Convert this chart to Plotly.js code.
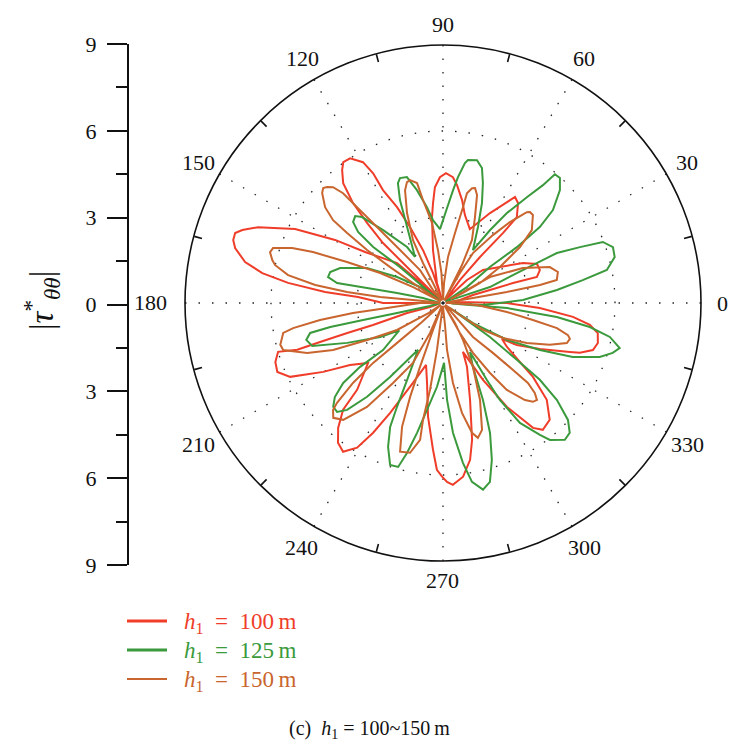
<!DOCTYPE html>
<html>
<head>
<meta charset="utf-8">
<script src="https://cdn.plot.ly/plotly-3.0.1.min.js"></script>
<style>html,body{margin:0;padding:0;background:#fff;}#chart{width:750px;height:752px;}</style>
</head>
<body>
<div id="chart"></div>
<script>
// ---- data: [theta (deg), |tau*| value] ----
const redCurve = [
 [10,0.6],[15,1.08],[15.5,1.7],[15.9,2.54],[15.5,3.4],[18.8,3.57],[22.5,3.55],[26.6,3.12],[32.3,2.35],[39.5,1.81],[43.8,1.16],[45,0.49],[49,0.1],
 [53.5,1.0],[51.2,2.06],[49.4,3.21],[49.3,3.95],[53.1,4.36],[55.8,4.47],[57.6,4.17],[62.4,3.54],[70,2.74],
 [76,3.16],[79.5,3.65],[83.2,4.14],[85.5,4.4],[88.7,4.53],[91.4,4.39],[94,4.05],[95.7,3.5],[97.3,3.02],[100.7,1.88],[106.7,0.73],[107.5,0.1],
 [108.4,1.1],[110.7,1.97],[113.5,2.89],[115.6,3.71],[118,4.46],[118.3,5.14],[119.6,5.65],[122.7,6.0],[125.3,6.02],[127.2,5.82],[129.8,5.44],[132,4.69],[133.5,3.84],[135,2.96],[135,2.12],[135,1.28],[135,0.64],[136,0.1],
 [138,1.1],[139,2.12],[146.8,3.25],[149.7,4.36],[153.4,5.77],[157.7,6.97],[160,7.45],[161.4,7.65],[163.3,7.64],[165.2,7.5],[168.3,7.05],[170.6,6.39],[172.6,5.45],[174.7,4.13],[176,2.97],[180,2.09],[180,0.56],[188,0.1],
 [197,0.47],[195.5,1.3],[197.4,2.56],[197.4,3.5],[197.6,4.5],[197.8,5.34],[196.5,6.0],[199.4,6.2],[202.6,6.26],[205.8,5.92],[209.9,4.82],[213.7,3.9],[218.7,3.35],
 [225.3,4.26],[226.9,5.1],[230,5.69],[233.1,6.1],[236.1,6.25],[239.3,5.87],[241.7,5.14],[244.3,4.25],[249.4,2.98],[254.7,2.24],
 [258.7,2.84],[262.5,4.0],[266.1,5.13],[267.9,5.82],[269.7,6.06],[271.3,6.24],[273.1,6.35],[276.6,6.1],[279.8,5.55],[282,4.88],[285.6,3.51],[290.6,2.38],[292.2,1.84],
 [297.5,3.02],[301.6,4.26],[305.8,5.37],[308.2,5.63],[312.4,5.52],[317,4.95],[320.6,4.06],[322.5,3.38],[325.5,2.71],[328.6,2.41],
 [330.4,2.96],[334.6,3.74],[338.9,4.74],[340,5.08],[342.6,5.48],[345.5,5.58],[349,5.5],[351.5,5.18],[353.9,4.56],[357,3.38],[0,2.23],[4,0.49],[7,0.1]
];
const greenCurve = [
 [357,1.4],[2.1,2.79],[6.5,4.0],[9.3,4.94],[11.4,5.83],[15,6.2],[18.2,6.24],[20.9,5.97],[22.2,5.16],[23.7,4.34],[22.4,3.01],[18.8,1.73],[20,0.6],[28,0.1],
 [33.7,1.0],[37.5,2.06],[37.1,3.23],[38.1,4.29],[40.2,5.02],[44,5.67],[46.9,5.97],[49,5.95],[49.7,5.39],[51.6,4.71],[54.6,3.85],[57.2,3.02],[60.5,2.12],
 [65.3,2.92],[68.7,3.74],[71.6,4.41],[73.9,4.9],[76.6,5.12],[80.1,5.06],[81.1,4.94],[83.2,4.42],[84.9,3.95],[87.6,3.31],[92.3,2.58],
 [96.9,2.91],[99.5,3.39],[103,4.04],[106,4.57],[109,4.61],[110.6,4.47],[112.7,3.89],[115.3,2.93],[121.3,1.88],
 [122.7,2.32],[129.4,3.29],[133.3,4.12],[135.3,4.31],[138,4.22],[140.1,3.86],[141.3,3.12],[140.1,1.95],[140.9,0.72],[143,0.1],
 [145.2,0.98],[150.5,1.84],[155.3,2.92],[161.2,3.79],[164.7,4.08],[167.3,4.11],[169.3,3.76],[168.8,2.7],[167.7,1.64],[166,0.72],[180,0.1],
 [193,0.47],[192.3,1.64],[192,2.85],[192,4.02],[192.7,4.75],[195.1,4.94],[198.2,4.8],[202.6,3.62],[208.4,2.49],[212,1.8],
 [218.1,2.66],[217.6,3.65],[218.7,4.46],[221,5.0],[223.4,5.27],[225.8,5.3],[228.1,5.01],[231,4.21],[234.4,3.17],[242,1.85],
 [245,2.96],[246.1,3.96],[246.9,4.7],[249.1,5.37],[251.9,5.94],[254.7,5.93],[256.5,5.38],[258.7,4.62],[261.5,3.77],[265.9,2.93],[271,2.09],
 [272.4,3.38],[274.4,4.54],[277.1,5.62],[279.2,6.32],[282.1,6.66],[284.7,6.45],[287.3,5.73],[289.9,4.82],[292.4,3.66],[295.1,2.46],[298.9,1.95],
 [299.7,3.09],[300.4,3.92],[302.7,4.97],[306.3,5.71],[308,6.06],[311.7,6.39],[314.3,6.33],[316.9,5.97],[319.6,5.22],[321.6,4.31],[322.4,3.25],[324.1,2.02],[324,0.3],
 [326.3,1.26],[330,2.58],[334.1,3.76],[337.4,4.9],[341,5.78],[343.6,6.17],[345.7,6.36],[348.5,5.94],[350.7,5.19],[353,4.0],[355.5,2.24],[356,0.3]
];
const orangeCurve = [
 [9.5,1.06],[9.8,2.26],[10.5,3.44],[11.4,4.05],[15.1,4.15],[18.6,3.93],[23.6,3.04],[29,1.87],[27,0.3],
 [26.6,0.78],[28.4,1.47],[32.3,2.35],[36,3.32],[39.4,4.01],[44.4,4.39],[46.3,4.39],[47.3,4.31],[50.4,3.66],[53.7,2.94],[59,2.03],[60.5,1.2],[61.7,0.51],[62,0.1],
 [63.4,1.48],[65.3,2.42],[69.6,3.2],[72.5,3.95],[74.4,4.16],[75.8,4.13],[77.7,3.92],[78.2,3.42],[80.3,2.47],[83.8,1.61],[87,0.7],[90,0.1],
 [93,1.05],[95.4,1.85],[97.8,2.81],[101,3.66],[102.2,4.28],[105,4.44],[106.6,4.4],[108.6,4.15],[111.8,3.38],[115.5,2.43],[116.6,1.56],[116.6,0.78],[120,0.1],
 [127.6,0.57],[124.9,1.4],[129,2.38],[131,3.51],[131.9,4.49],[132.3,5.18],[133.5,5.57],[135,5.72],[136.2,5.79],[137.7,5.7],[140.9,5.3],[143,4.8],[143.9,4.14],[145.1,3.23],[145.8,2.23],[146.3,1.26],[148,0.1],
 [151.9,1.18],[154.5,2.43],[156.9,3.64],[158.6,4.87],[160,5.6],[162.1,6.23],[163.6,6.29],[165.9,6.14],[167.3,6.0],[169.8,5.49],[172,4.5],[173.5,3.37],[174.6,2.2],[174.3,1.05],[177,0.1],
 [180,0.8],[185.1,1.96],[186.3,3.16],[187.9,4.33],[189.5,5.3],[190.6,5.67],[194.4,5.86],[196.4,5.81],[200.2,5.05],[203.1,4.17],[206,2.94],[210.4,1.86],[215,0.6],[220,0.1],
 [222,1.0],[221,2.12],[220.6,3.21],[221.6,4.2],[223.3,5.08],[224.2,5.35],[226.3,5.54],[229.5,5.36],[233.8,4.49],[238,3.29],[243.4,2.34],[246.6,1.14],[248,0.1],
 [249.7,1.0],[250.2,2.37],[250.7,3.47],[251.7,4.55],[253.9,5.4],[257.6,5.35],[260.5,4.84],[260.3,4.14],[261.5,3.06],[262.7,1.65],[263,0.6],[268,0.1],
 [275.2,0.77],[274.9,1.64],[277.1,2.81],[279.8,3.89],[282.6,4.64],[284.5,4.86],[287.1,4.63],[290.9,3.62],[295.1,2.46],[298.4,1.47],[301,0.81],[300,0.1],
 [299.5,1.2],[301,2.03],[303.9,2.94],[306.3,3.76],[310.2,4.43],[312.3,4.66],[314.1,4.71],[315.6,4.48],[316.7,4.07],[316.3,3.38],[315,2.46],[311.4,1.58],[318,0.1],
 [325,0.85],[326,1.68],[329.7,2.42],[334.5,3.24],[338.6,4.0],[342.1,4.54],[344.2,4.6],[345.6,4.5],[347.6,4.07],[349.3,3.19],[352,2.25],[356.6,1.19],[3,0.1]
];
const seriesNames = ['h1 = 100 m', 'h1 = 125 m', 'h1 = 150 m'];
const seriesLabels = ['100', '125', '150'];
const seriesColors = ['#ef3d2a', '#3a9a3c', '#c9652e'];
const angleTicks = [0,30,60,90,120,150,180,210,240,270,300,330];
const angleTickLabels = ['0','30','60','90','120','150','180','210','240','270','300','330'];
const angleMinorTicks = [15,45,75,105,135,165,195,225,255,285,315,345];
const valueTickVals = [-9,-6,-3,0,3,6,9];
const valueTickText = ['9','6','3','0','3','6','9'];

// ---- build ----
const curves = [redCurve, greenCurve, orangeCurve];
const widths = [2, 2, 2];
const traces = curves.map((c, i) => {
  const closed = c.concat([c[0]]);
  return {
    type: 'scatterpolar', subplot: 'polar', mode: 'lines',
    name: seriesNames[i],
    theta: closed.map(p => p[0]),
    r: closed.map(p => p[1]),
    line: {color: seriesColors[i], width: widths[i]},
    hoverinfo: 'skip', showlegend: false
  };
});
traces.push({type: 'scatterpolar', subplot: 'polar2', r: [], theta: [], mode: 'lines', showlegend: false, hoverinfo: 'skip'});
traces.push({type: 'scatter', x: [], y: [], xaxis: 'x', yaxis: 'y', mode: 'markers', showlegend: false, hoverinfo: 'skip'});

const W = 750, H = 752;
const cx = 443, cy = 303, R = 258;
const polDomain = {x: [(cx - R) / W, (cx + R) / W], y: [(H - cy - R) / H, (H - cy + R) / H]};
const FONT = 'Liberation Serif, DejaVu Serif, serif';
const dotted = '1.5px,12px';

const shapes = [];
const annotations = [];

// angle labels placed around the outer circle (label distance from circle, per direction)
const labelGap = {0: 21, 30: 24, 60: 24, 90: 20, 120: 24, 150: 24, 180: 35, 210: 24, 240: 24, 270: 19, 300: 24, 330: 24};
angleTicks.forEach((a, i) => {
  const rad = a * Math.PI / 180;
  const d = R + labelGap[a];
  const px = cx + d * Math.cos(rad), py = cy - d * Math.sin(rad);
  annotations.push({xref: 'paper', yref: 'paper', x: px / W, y: (H - py) / H,
    xanchor: 'center', yanchor: 'middle', showarrow: false, text: angleTickLabels[i],
    font: {family: FONT, size: 22, color: '#111'}});
});

const legendY = [621, 650, 679];
const legendWidths = [3, 3, 2];
seriesColors.forEach((col, i) => {
  shapes.push({type: 'line', xref: 'paper', yref: 'paper',
    x0: 127 / W, x1: 167 / W, y0: (H - legendY[i]) / H, y1: (H - legendY[i]) / H,
    line: {color: col, width: legendWidths[i]}});
  annotations.push({xref: 'paper', yref: 'paper', x: 182 / W, y: (H - legendY[i] - 2) / H,
    xanchor: 'left', yanchor: 'middle', showarrow: false,
    text: '<i>h</i><sub>1</sub>&nbsp; = &nbsp;' + seriesLabels[i] + '&#8201;m',
    font: {family: FONT, size: 23, color: col}});
});
annotations.push({xref: 'paper', yref: 'paper', x: 41 / W, y: (H - 301) / H, showarrow: false,
  textangle: -90, xanchor: 'center', yanchor: 'middle',
  text: '|<i>τ</i><sup>*</sup><sub><i>θθ</i></sub>|', font: {family: FONT, size: 33, color: '#111'}});
annotations.push({xref: 'paper', yref: 'paper', x: 369 / W, y: (H - 729) / H, showarrow: false,
  xanchor: 'center', yanchor: 'middle',
  text: '(c)&nbsp; <i>h</i><sub>1</sub> = 100~150&#8201;m', font: {family: FONT, size: 20, color: '#111'}});

const layout = {
  width: W, height: H,
  margin: {l: 0, r: 0, t: 0, b: 0},
  paper_bgcolor: '#ffffff', plot_bgcolor: 'rgba(0,0,0,0)',
  showlegend: false,
  font: {family: FONT, size: 22, color: '#111'},
  polar: {
    domain: polDomain, bgcolor: '#ffffff',
    radialaxis: {range: [0, 9], tickvals: [3, 6], showticklabels: false, ticks: '',
      showline: false, gridcolor: '#222', gridwidth: 1.3, griddash: dotted},
    angularaxis: {rotation: 0, direction: 'counterclockwise', tickmode: 'array',
      tickvals: angleTicks, ticktext: angleTickLabels, showticklabels: false, ticks: '',
      showline: true, linecolor: '#111', linewidth: 1.6,
      gridcolor: '#222', gridwidth: 1.3, griddash: dotted}
  },
  polar2: {
    domain: polDomain, bgcolor: 'rgba(0,0,0,0)',
    radialaxis: {visible: false, range: [0, 9]},
    angularaxis: {rotation: 0, direction: 'counterclockwise', tickmode: 'array',
      tickvals: angleMinorTicks, ticks: 'inside', ticklen: 8, tickwidth: 1.6, tickcolor: '#111',
      showticklabels: false, showline: false, showgrid: false}
  },
  xaxis: {domain: [0.175, 0.18], visible: false, range: [0, 1]},
  yaxis: {domain: [(H - 565) / H, (H - 44) / H], anchor: 'free', position: 127 / W,
    range: [-9, 9], tickmode: 'array', tickvals: valueTickVals, ticktext: valueTickText,
    ticks: 'outside', ticklen: 20, tickwidth: 2, tickcolor: '#111',
    showline: true, linecolor: '#111', linewidth: 1.6, showgrid: false, zeroline: false,
    ticklabelstandoff: 6,
    tickfont: {family: FONT, size: 22, color: '#111'},
    minor: {tick0: 0, dtick: 1.5, ticks: 'outside', ticklen: 11, tickwidth: 2, tickcolor: '#111', showgrid: false}
  },
  shapes: shapes,
  annotations: annotations
};

Plotly.newPlot('chart', traces, layout, {staticPlot: true, displayModeBar: false});
</script>
</body>
</html>
